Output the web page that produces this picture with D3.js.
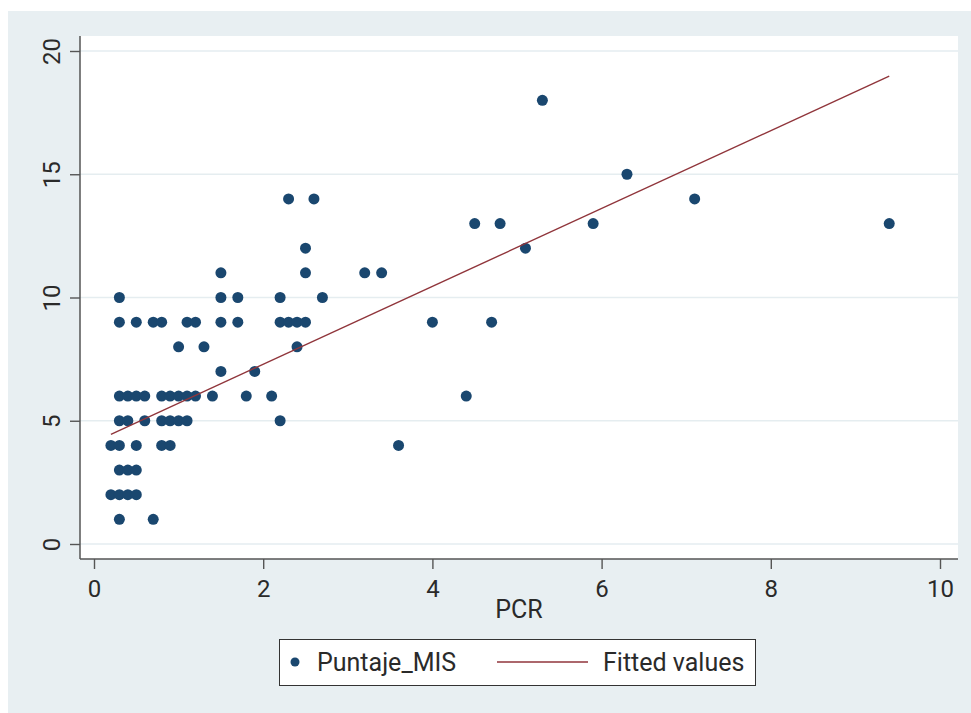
<!DOCTYPE html>
<html>
<head>
<meta charset="utf-8">
<script src="https://cdn.jsdelivr.net/npm/d3@7"></script>
<style>
  body { margin: 0; background: #ffffff; }
  svg { display: block; font-family: Roboto, "Liberation Sans", sans-serif; }
</style>
</head>
<body>
<div id="wrapper"></div>
<script>

// data (grouped by score row)

const pcr = [
  5.3,
  6.3,
  2.3, 2.6, 7.1,
  4.5, 4.8, 5.9, 9.4,
  2.5, 5.1,
  1.5, 2.5, 3.2, 3.4,
  0.3, 1.5, 1.7, 2.2, 2.7,
  0.3, 0.5, 0.7, 0.8, 1.1, 1.2, 1.5, 1.7, 2.2, 2.3, 2.4, 2.5, 4.0, 4.7,
  1.0, 1.3, 2.4,
  1.5, 1.9,
  0.3, 0.4, 0.5, 0.6, 0.8, 0.9, 1.0, 1.1, 1.2, 1.4, 1.8, 2.1, 4.4,
  0.3, 0.4, 0.6, 0.8, 0.9, 1.0, 1.1, 2.2,
  0.2, 0.3, 0.5, 0.8, 0.9, 3.6,
  0.3, 0.4, 0.5,
  0.2, 0.3, 0.4, 0.5,
  0.3, 0.7
];

const puntajeMIS = [
  18,
  15,
  14, 14, 14,
  13, 13, 13, 13,
  12, 12,
  11, 11, 11, 11,
  10, 10, 10, 10, 10,
  9, 9, 9, 9, 9, 9, 9, 9, 9, 9, 9, 9, 9, 9,
  8, 8, 8,
  7, 7,
  6, 6, 6, 6, 6, 6, 6, 6, 6, 6, 6, 6, 6,
  5, 5, 5, 5, 5, 5, 5, 5,
  4, 4, 4, 4, 4, 4,
  3, 3, 3,
  2, 2, 2, 2,
  1, 1
];

// fitted values (linear fit) at the ends of the PCR range
const fitPCR = [0.2, 9.4];
const fitValues = [4.45, 18.98];

const xTicks = [0, 2, 4, 6, 8, 10];
const yTicks = [0, 5, 10, 15, 20];
const xTitle = "PCR";
const legendLabels = ["Puntaje_MIS", "Fitted values"];

const points = pcr.map((x, i) => ({ x, y: puntajeMIS[i] }));
const fitLine = fitPCR.map((x, i) => ({ x, y: fitValues[i] }));

// dimensions

const dms = {
  width: 971,
  height: 713,
  plot: { left: 80, top: 36, right: 958, bottom: 559 }
};

const colors = {
  bg: "#e8eff2",
  grid: "#e5edf0",
  marker: "#1a476f",
  fit: "#90353b",
  axis: "#555555",
  text: "#2a2a2a"
};

const svg = d3.select("#wrapper")
  .append("svg")
    .attr("width", dms.width)
    .attr("height", dms.height);

svg.append("rect")
    .attr("x", 8)
    .attr("y", 11)
    .attr("width", dms.width - 8)
    .attr("height", dms.height - 11)
    .attr("fill", colors.bg);

svg.append("rect")
    .attr("x", dms.plot.left)
    .attr("y", dms.plot.top)
    .attr("width", dms.plot.right - dms.plot.left)
    .attr("height", dms.plot.bottom - dms.plot.top)
    .attr("fill", "#ffffff");

// scales

const xScale = d3.scaleLinear()
  .domain([0, 10])
  .range([94, 940]);

const yScale = d3.scaleLinear()
  .domain([0, 20])
  .range([544, 51]);

// grid

svg.append("g")
  .selectAll("line")
  .data(yTicks)
  .join("line")
    .attr("x1", dms.plot.left)
    .attr("x2", dms.plot.right)
    .attr("y1", d => yScale(d))
    .attr("y2", d => yScale(d))
    .attr("stroke", colors.grid)
    .attr("stroke-width", 1.5);

// data

svg.append("g")
  .selectAll("circle")
  .data(points)
  .join("circle")
    .attr("cx", d => xScale(d.x))
    .attr("cy", d => yScale(d.y))
    .attr("r", 5.5)
    .attr("fill", colors.marker);

const lineGenerator = d3.line()
  .x(d => xScale(d.x))
  .y(d => yScale(d.y));

svg.append("path")
    .attr("d", lineGenerator(fitLine))
    .attr("fill", "none")
    .attr("stroke", colors.fit)
    .attr("stroke-width", 1.4);

// axes

const yAxis = svg.append("g")
    .attr("transform", `translate(${dms.plot.left},0)`)
    .call(d3.axisLeft(yScale).tickValues(yTicks).tickSize(10));

yAxis.select(".domain").remove();
yAxis.selectAll(".tick line").attr("stroke", colors.axis).attr("stroke-width", 1.4);
yAxis.selectAll(".tick text")
    .attr("x", 0)
    .attr("y", -20)
    .attr("dy", 0)
    .attr("transform", "rotate(-90)")
    .attr("text-anchor", "middle")
    .attr("fill", colors.text)
    .style("font-size", "24px")
    .style("font-family", "Roboto, sans-serif");

const xAxis = svg.append("g")
    .attr("transform", `translate(0,${dms.plot.bottom})`)
    .call(d3.axisBottom(xScale).tickValues(xTicks).tickSize(10));

xAxis.select(".domain").remove();
xAxis.selectAll(".tick line").attr("stroke", colors.axis).attr("stroke-width", 1.4);
xAxis.selectAll(".tick text")
    .attr("y", 38)
    .attr("dy", 0)
    .attr("fill", colors.text)
    .style("font-size", "24px")
    .style("font-family", "Roboto, sans-serif");

svg.append("line")
    .attr("x1", dms.plot.left)
    .attr("x2", dms.plot.left)
    .attr("y1", dms.plot.top)
    .attr("y2", dms.plot.bottom)
    .attr("stroke", colors.axis)
    .attr("stroke-width", 1.5);

svg.append("line")
    .attr("x1", dms.plot.left)
    .attr("x2", dms.plot.right)
    .attr("y1", dms.plot.bottom)
    .attr("y2", dms.plot.bottom)
    .attr("stroke", colors.axis)
    .attr("stroke-width", 1.5);

svg.append("text")
    .attr("x", (dms.plot.left + dms.plot.right) / 2)
    .attr("y", 618)
    .attr("text-anchor", "middle")
    .attr("fill", colors.text)
    .style("font-size", "25px")
    .text(xTitle);

// legend

const legend = svg.append("g");

legend.append("rect")
    .attr("x", 279.5)
    .attr("y", 639.5)
    .attr("width", 476)
    .attr("height", 46)
    .attr("fill", "#ffffff")
    .attr("stroke", "#333333")
    .attr("stroke-width", 1);

legend.append("circle")
    .attr("cx", 295)
    .attr("cy", 662)
    .attr("r", 4.5)
    .attr("fill", colors.marker);

legend.append("line")
    .attr("x1", 497)
    .attr("x2", 588)
    .attr("y1", 662)
    .attr("y2", 662)
    .attr("stroke", colors.fit)
    .attr("stroke-width", 1.4);

legend.selectAll("text")
  .data(legendLabels)
  .join("text")
    .attr("x", (d, i) => i === 0 ? 317 : 603)
    .attr("y", 671)
    .attr("fill", colors.text)
    .style("font-size", "25px")
    .text(d => d);

</script>
</body>
</html>
